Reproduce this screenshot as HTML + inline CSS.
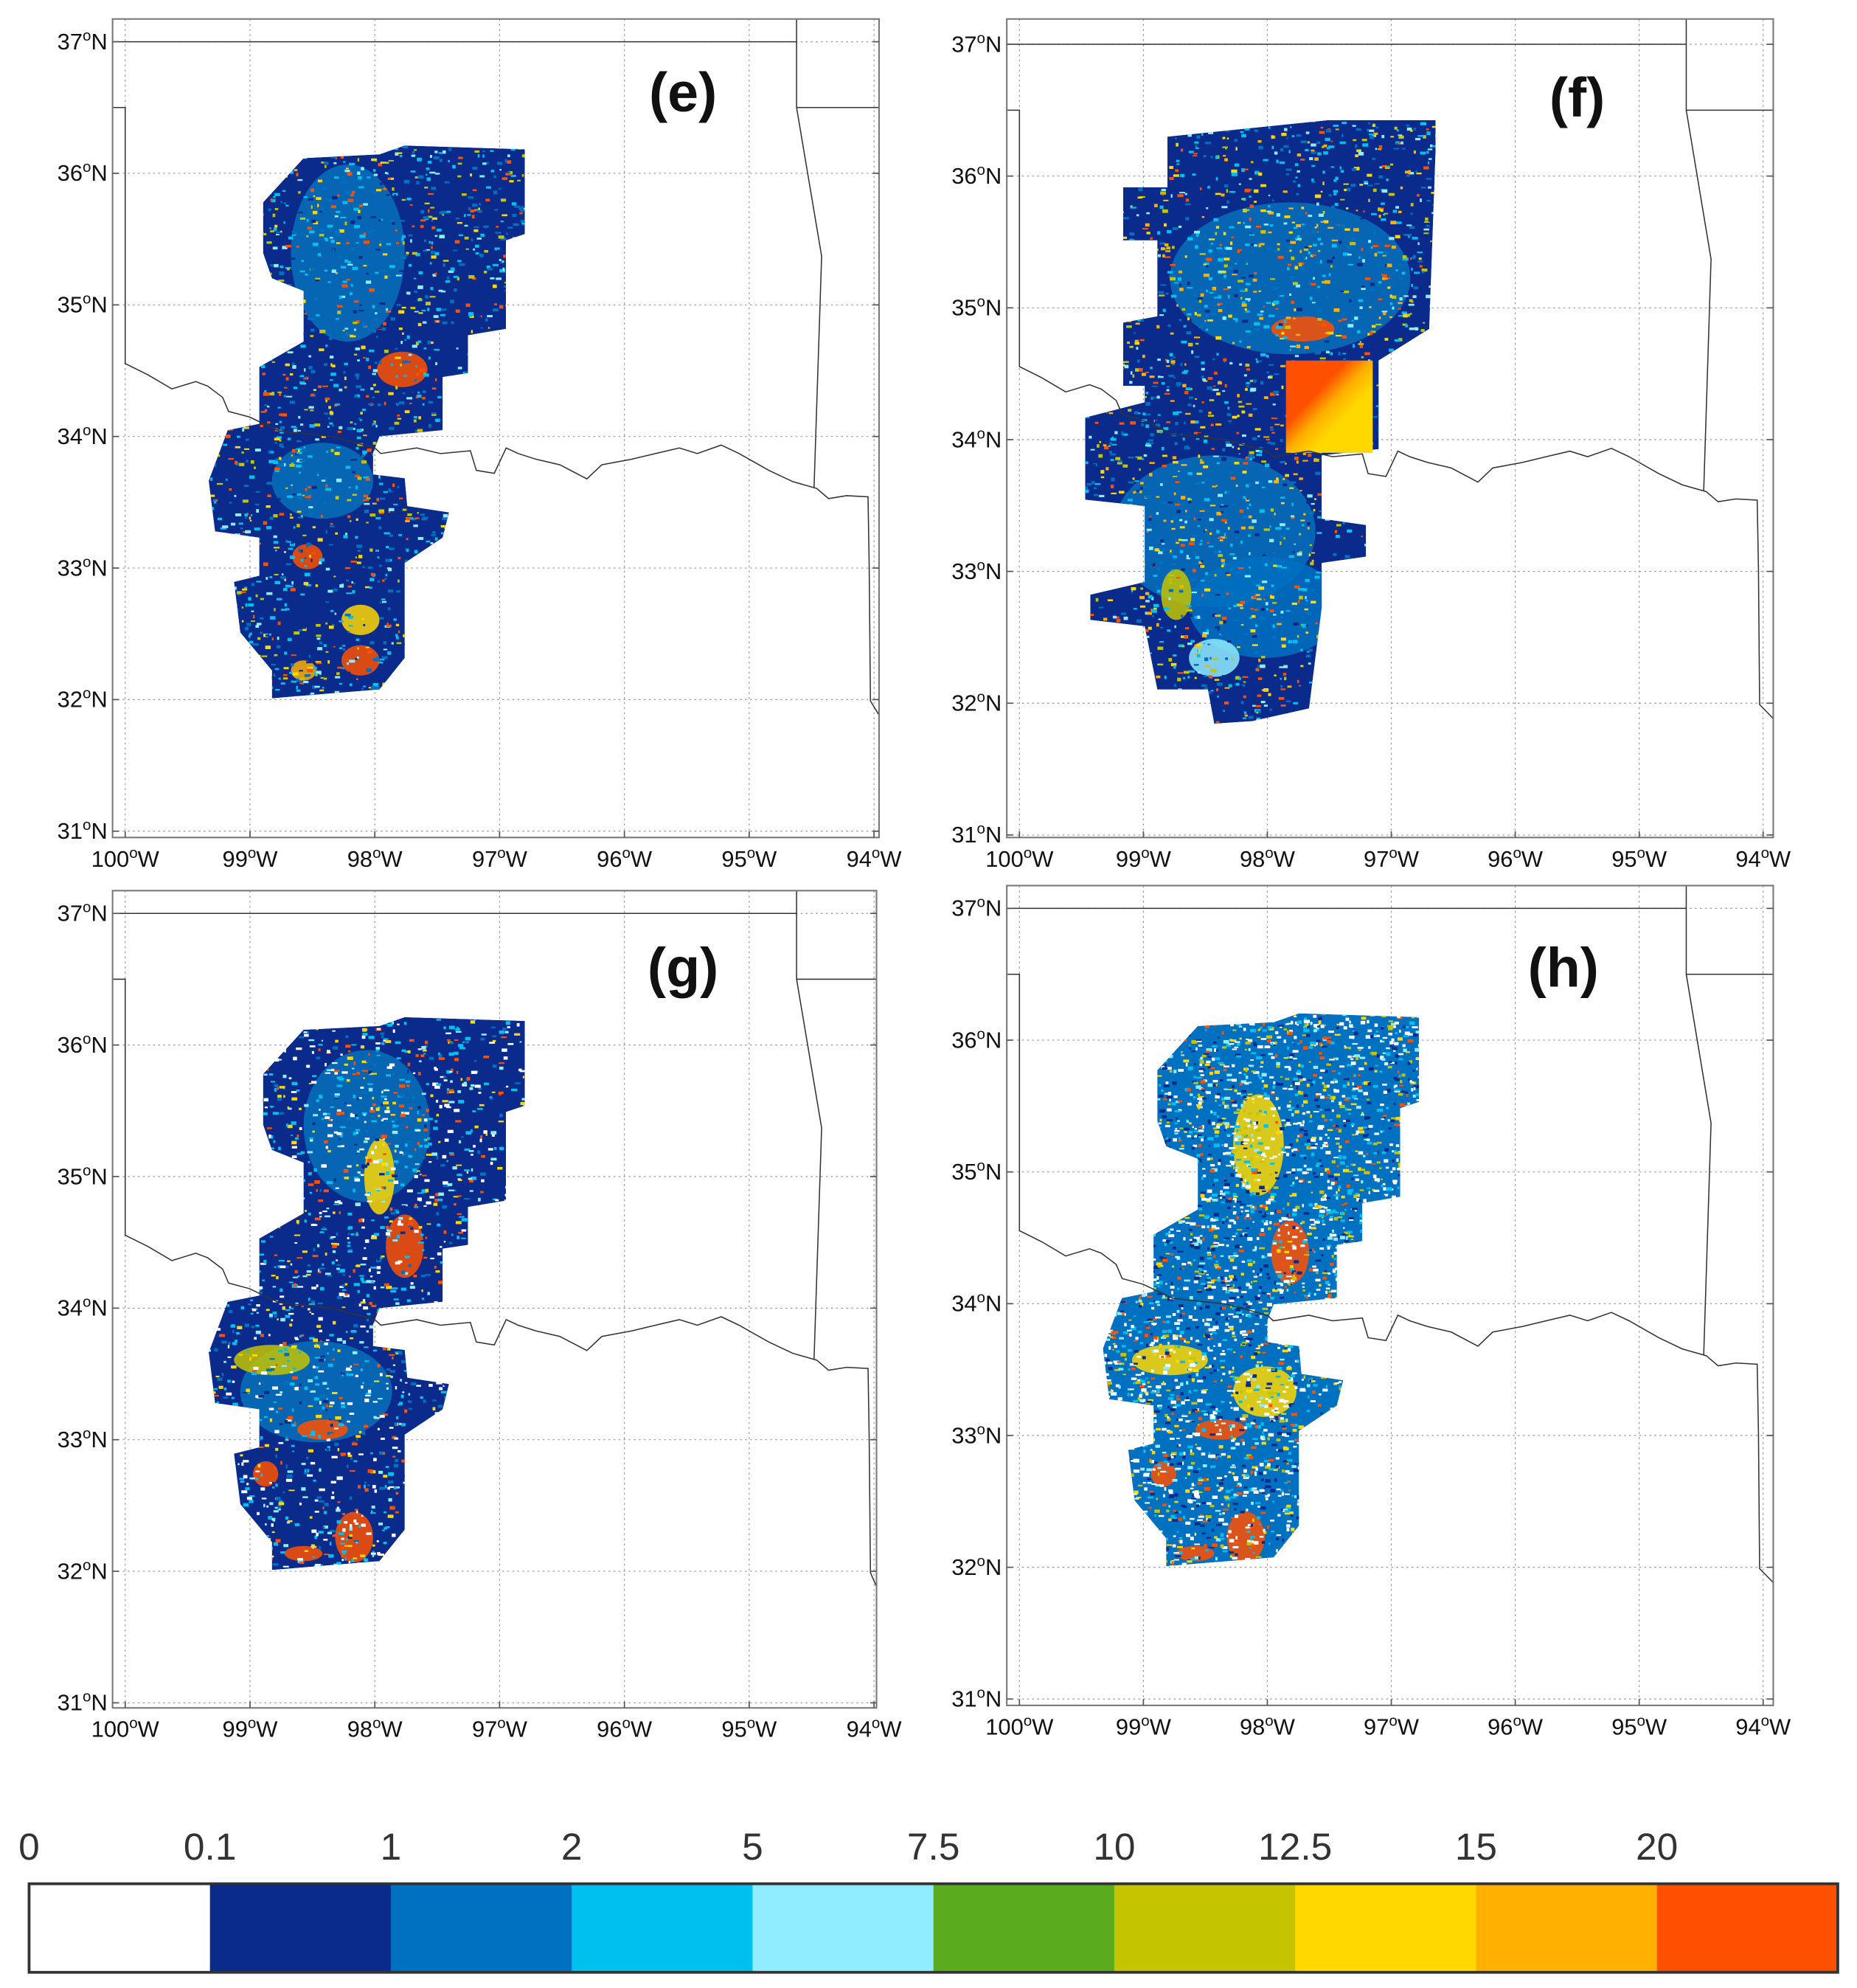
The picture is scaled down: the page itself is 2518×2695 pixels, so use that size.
<!DOCTYPE html>
<html><head><meta charset="utf-8">
<style>
html,body{margin:0;padding:0;background:#fff;}
svg{display:block;}
text{font-family:"Liberation Sans",sans-serif;}
</style></head>
<body>
<svg id="fig" xmlns="http://www.w3.org/2000/svg" width="2518" height="2695" viewBox="0 0 1468.2 1571.4" preserveAspectRatio="none">
<defs id="defs"></defs>
<g id="panels"></g>
<g id="colorbar"></g>
</svg>
<script>
// ---- data arrays ----
const lonTicks = [100, 99, 98, 97, 96, 95, 94];
const latTicks = [37, 36, 35, 34, 33, 32, 31];
const cbLabels = ["0", "0.1", "1", "2", "5", "7.5", "10", "12.5", "15", "20"];
const cbColors = ["#ffffff", "#0a2a8c", "#0070c0", "#00c0f0", "#90ecff", "#5aac1e", "#c4c400", "#ffd800", "#ffb000", "#ff5000"];
const panelIds = ["e", "f", "g", "h"];

const NS = "http://www.w3.org/2000/svg";
const svg = document.getElementById('fig');
const defs = document.getElementById('defs');
const root = document.getElementById('panels');
function mk(tag, attrs, parent) { const e = document.createElementNS(NS, tag); for (const k in attrs) e.setAttribute(k, attrs[k]); if (parent) parent.appendChild(e); return e; }

const panels = [
  {id:'e', box:[89,15,695,662], lx:[99,691], ly:[33,657], lab:[540,88]},
  {id:'f', box:[796,15,1402,662], lx:[806,1394], ly:[35,660], lab:[1247,92]},
  {id:'g', box:[89,704,693,1350], lx:[99,691], ly:[722,1346], lab:[540,780]},
  {id:'h', box:[796,700,1402,1348], lx:[806,1394], ly:[718,1343], lab:[1236,780]}
];

const riverPx = [[212,640],[250,660],[290,685],[330,672],[350,680],[375,700],[385,725],[420,735],[440,745],[470,760],[560,770],[630,790],[640,800],[700,790],[740,800],[790,795],[800,830],[830,835],[850,790],[870,800],[900,810],[940,820],[985,845],[1010,820],[1060,810],[1100,800],[1140,790],[1170,800],[1210,785],[1240,800],[1290,830],[1330,850],[1370,862],[1390,880],[1420,875],[1456,877],[1458,1000],[1460,1240],[1485,1265]];
const river = riverPx.map(p => [100 - (p[0]/1.239 - 171)/168.7, 37 - (p[1]/1.3 - 52)/180]);
const borders = [
  [[100.3,37],[94.62,37],[94.62,37.3]],
  [[94.62,37],[94.62,36.5],[93.8,36.5]],
  [[94.62,36.5],[94.42,35.37],[94.48,33.61]],
  [[100.3,36.5],[100,36.5],[100,34.55]],
  river
];

const blobE = [[208,160],[240,125],[300,122],[320,115],[415,118],[415,185],[400,190],[400,260],[370,265],[370,295],[350,298],[350,340],[300,345],[295,358],[295,375],[320,378],[322,400],[355,405],[350,425],[320,445],[320,520],[300,545],[215,552],[215,530],[190,500],[185,460],[205,455],[205,425],[170,420],[165,380],[180,340],[205,335],[205,290],[240,270],[240,230],[215,220],[208,200]];
const blobF = [[923,108],[1050,95],[1135,95],[1135,120],[1130,260],[1090,285],[1090,355],[1045,360],[1045,410],[1080,415],[1080,440],[1045,445],[1045,480],[1035,560],[990,570],[960,572],[955,545],[915,545],[905,495],[862,490],[862,470],[905,460],[905,400],[858,395],[858,330],[905,318],[905,305],[888,305],[888,255],[915,250],[915,190],[888,190],[888,148],[923,148]];
const blobOffsets = {e:[0,0], g:[0,689], h:[707,686]};
const spotsE = [[275,200,45,70,3],[255,380,40,30,3],[318,292,20,14,9],[243,440,12,10,9],[285,490,15,12,7],[285,522,15,12,9],[240,530,10,8,8]];
const spotsF = [[1020,220,95,60,3],[960,420,80,60,3],[1000,480,60,40,2],[1030,260,25,10,9],[930,470,12,20,6],[960,520,20,15,4]];
const spotsG = [[290,890,50,60,3],[250,1100,60,40,3],[215,1075,30,12,6],[320,985,15,25,9],[255,1130,20,8,9],[210,1165,10,10,9],[280,1215,15,20,9],[240,1228,15,6,9],[300,930,12,30,7]];
const spotsH = [[995,905,20,40,7],[925,1075,30,12,7],[1000,1100,25,20,7],[1020,990,15,25,9],[965,1130,20,8,9],[920,1165,10,10,9],[985,1215,15,20,9],[945,1228,15,6,9]];

function ax(p){ return { x: lon => p.lx[0] + (100-lon)*(p.lx[1]-p.lx[0])/6, y: lat => p.ly[0] + (37-lat)*(p.ly[1]-p.ly[0])/6 }; }

let seed = 12345;
function rnd(){ seed = (seed*1103515245 + 12345) % 2147483648; return seed/2147483648; }

function speckle(g, pts, n, palette, size){
  let x0=1e9,x1=-1e9,y0=1e9,y1=-1e9;
  pts.forEach(p=>{x0=Math.min(x0,p[0]);x1=Math.max(x1,p[0]);y0=Math.min(y0,p[1]);y1=Math.max(y1,p[1]);});
  for(let i=0;i<n;i++){
    const c = palette[Math.floor(rnd()*palette.length)];
    const r = mk('rect',{x:(x0+rnd()*(x1-x0)).toFixed(1), y:(y0+rnd()*(y1-y0)).toFixed(1), width:(size*(0.6+rnd()*1.6)).toFixed(1), height:(size*(0.5+rnd()*0.8)).toFixed(1), fill:cbColors[c]}, g);
    
    
  }
}

panels.forEach(p => {
  const A = ax(p);
  const g = mk('g',{}, root);
  
  
  const [bx0,by0,bx1,by1] = p.box;
  const grid = mk('g',{stroke:'#999','stroke-width':0.7,'stroke-dasharray':'1.5 2.5'}, g);
  
  
  lonTicks.forEach(l=>{ const x=A.x(l); const ln=mk('line',{x1:x,x2:x,y1:by0,y2:by1},grid);   });
  latTicks.forEach(l=>{ const y=A.y(l); const ln=mk('line',{x1:bx0,x2:bx1,y1:y,y2:y},grid);   });

  const field = mk('g',{}, g);
  
  
  let pts, spots, dense, palette, base;
  if (p.id==='f'){ pts=blobF; spots=spotsF; base=1; palette=[2,2,3,3,4,9,8,7,6,1]; dense=2600; }
  else {
    const o=blobOffsets[p.id]; pts=blobE.map(q=>[q[0]+o[0],q[1]+o[1]]);
    spots = p.id==='e'?spotsE:(p.id==='g'?spotsG:spotsH);
    if(p.id==='e'){ base=1; palette=[2,2,3,3,4,9,7,6,1]; dense=2200; }
    else if(p.id==='g'){ base=1; palette=[2,3,3,0,0,1,4,9,7]; dense=2400; }
    else { base=2; palette=[0,0,0,0,1,1,3,3,4,7,9,6]; dense=4200; }
  }
  const cid='clip'+p.id;
  const cp = mk('clipPath',{id:cid}, defs);
  mk('polygon',{points:pts.map(q=>q.join(',')).join(' ')}, cp);
  const inner = mk('g',{'clip-path':'url(#'+cid+')'}, field);
  const bp = mk('polygon',{points:pts.map(q=>q.join(',')).join(' '), fill:cbColors[base]}, inner);
  
  
  spots.forEach(s=>{ const e=mk('ellipse',{cx:s[0],cy:s[1],rx:s[2],ry:s[3],fill:cbColors[s[4]],opacity:s[4]===3?0.4:0.85},inner);   });
  speckle(inner, pts, dense, palette, 2.2);
  if (p.id==='f'){
    const rx0=A.x(97.85), rx1=A.x(97.15), ry0=A.y(34.6), ry1=A.y(33.9);
    const gr = mk('linearGradient',{id:'fgrad',x1:0,y1:0,x2:1,y2:1}, defs);
    mk('stop',{offset:'0.35','stop-color':'#ff5000'},gr); mk('stop',{offset:'0.5','stop-color':'#ffb000'},gr); mk('stop',{offset:'0.65','stop-color':'#ffd800'},gr);
    const r=mk('rect',{x:rx0,y:ry0,width:rx1-rx0,height:ry1-ry0,fill:'url(#fgrad)'},field);
    
    
  }
  borders.forEach(b=>{
    const d = b.map((q,i)=>(i?'L':'M')+Math.min(Math.max(A.x(q[0]),bx0),bx1).toFixed(1)+','+Math.min(Math.max(A.y(q[1]),by0),by1).toFixed(1)).join('');
    const pa = mk('path',{d:d,fill:'none',stroke:'#333','stroke-width':0.9}, g);
    
    
  });
  const box = mk('rect',{x:bx0,y:by0,width:bx1-bx0,height:by1-by0,fill:'none',stroke:'#777','stroke-width':1.2}, g);
  
  
  latTicks.forEach(l=>{
    const y=A.y(l);
    const t=mk('text',{x:bx0-4,y:y+6,'text-anchor':'end','font-size':18,fill:'#111'},g);
    t.innerHTML = l+'<tspan dy="-7" font-size="12">o</tspan><tspan dy="7">N</tspan>';
    
    
    const tk=mk('line',{x1:bx0,x2:bx0+5,y1:y,y2:y,stroke:'#555'},g);  
    const tk2=mk('line',{x1:bx1,x2:bx1-5,y1:y,y2:y,stroke:'#555'},g);  
  });
  lonTicks.forEach(l=>{
    const x=A.x(l);
    const t=mk('text',{x:x,y:by1+23,'text-anchor':'middle','font-size':18,fill:'#111'},g);
    t.innerHTML = l+'<tspan dy="-7" font-size="12">o</tspan><tspan dy="7">W</tspan>';
    
    
    const tk=mk('line',{x1:x,x2:x,y1:by1,y2:by1-5,stroke:'#555'},g);  
  });
  const lt = mk('text',{x:p.lab[0],y:p.lab[1],'text-anchor':'middle','font-size':44,'font-weight':'bold',fill:'#111'},g);
  lt.textContent='('+p.id+')';
  
  
});

const cb = document.getElementById('colorbar');
const cbX0=23, cbX1=1453, cbY0=1489, cbY1=1559;
const segW=(cbX1-cbX0)/cbColors.length;
cbColors.forEach((c,i)=>{
  const r=mk('rect',{x:cbX0+i*segW,y:cbY0,width:segW+0.5,height:cbY1-cbY0,fill:c},cb);
  
  
});
mk('rect',{x:cbX0,y:cbY0,width:cbX1-cbX0,height:cbY1-cbY0,fill:'none',stroke:'#333','stroke-width':2.2},cb);
cbLabels.forEach((l,i)=>{
  const t=mk('text',{x:cbX0+i*segW,y:1470,'text-anchor':'middle','font-size':30,fill:'#333','font-family':'"Liberation Sans Narrow","Liberation Sans",sans-serif'},cb);
  t.textContent=l;
  
  
});
</script>
</body></html>
